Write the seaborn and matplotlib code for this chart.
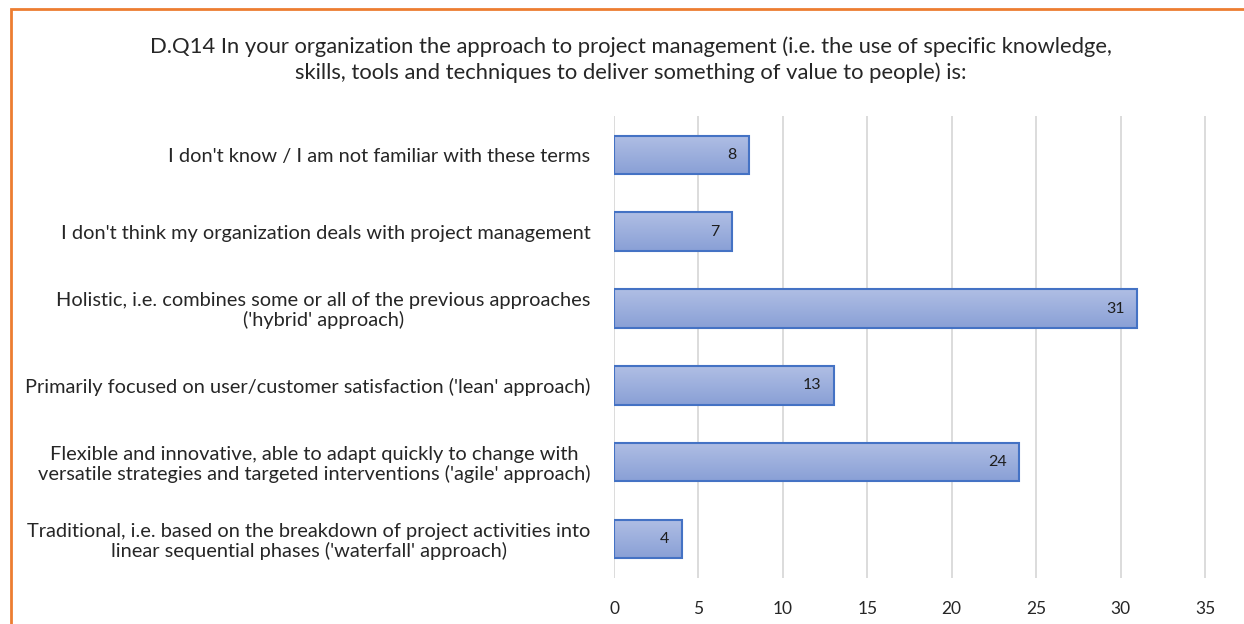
import matplotlib
matplotlib.use("Agg")
import matplotlib.pyplot as plt
import seaborn as sns
import numpy as np
import pandas as pd
from matplotlib.patches import Rectangle
from matplotlib.colors import LinearSegmentedColormap

# answers, top to bottom as in the chart
answers = [
    "I don't know / I am not familiar with these terms",
    "I don't think my organization deals with project management",
    "Holistic, i.e. combines some or all of the previous approaches\n('hybrid' approach)",
    "Primarily focused on user/customer satisfaction ('lean' approach)",
    "Flexible and innovative, able to adapt quickly to change with\nversatile strategies and targeted interventions ('agile' approach)",
    "Traditional, i.e. based on the breakdown of project activities into\nlinear sequential phases ('waterfall' approach)",
]
counts = [8, 7, 31, 13, 24, 4]
x_ticks = [0, 5, 10, 15, 20, 25, 30, 35]

title = ("D.Q14 In your organization the approach to project management (i.e. the use of specific knowledge,\n"
         "skills, tools and techniques to deliver something of value to people) is:")

sns.set_style("white")
plt.rcParams['font.family'] = ['Lato', 'DejaVu Sans']

df = pd.DataFrame({'answer': answers, 'count': counts})

fig = plt.figure(figsize=(12.44, 6.24), dpi=100)
ax = fig.add_axes([0.4936, 0.0745, 0.4791, 0.739])

sns.barplot(data=df, y='answer', x='count', orient='h', order=answers,
            color='#9dafdd', edgecolor='#4472c4', linewidth=1.5, width=0.5,
            saturation=1, ax=ax, zorder=3)

# Excel-like vertical gradient inside each bar
grad = LinearSegmentedColormap.from_list('g', ['#8aa0d6', '#afbee4'])
for p in ax.patches:
    x0, y0, w, h = p.get_x(), p.get_y(), p.get_width(), p.get_height()
    im = ax.imshow(np.linspace(0, 1, 50).reshape(-1, 1), cmap=grad, aspect='auto',
                   extent=(x0, x0 + w, y0 + h, y0), origin='lower', zorder=3.5)
    im.set_clip_path(p)
    p.set_facecolor('none')
    p.set_zorder(3.6)

for p, v in zip(ax.patches, counts):
    ax.text(p.get_width() - 0.75, p.get_y() + p.get_height() / 2, str(v),
            ha='right', va='center', fontsize=11.5, color='#1e1e1e', zorder=4)

ax.set_ylim(len(answers) - 0.5, -0.5)
ax.set_xlim(0, 35.3)
ax.set_xticks(x_ticks)
ax.set_xticklabels([str(t) for t in x_ticks], fontsize=12.5, color='#262626')
ax.grid(axis='x', color='#d9d9d9', linewidth=1.3, zorder=0)
ax.set_axisbelow(True)
ax.set_xlabel('')
ax.set_ylabel('')
ax.tick_params(axis='x', length=0, pad=17)
ax.tick_params(axis='y', length=0, pad=17)
for lbl in ax.get_yticklabels():
    lbl.set_fontsize(14.4)
    lbl.set_color('#262626')
    lbl.set_multialignment('center')
    lbl.set_linespacing(1.12)
for s in ax.spines.values():
    s.set_visible(False)

fig.text(0.507, 0.905, title, ha='center', va='center', fontsize=15.8,
         color='#262626', linespacing=1.33)

# orange chart frame (extends past right/bottom edge)
fig.patches.append(Rectangle((11 / 1244, -0.05), 1.2, 0.05 + 1 - 9 / 624,
                             transform=fig.transFigure, fill=False,
                             edgecolor='#ed7d31', linewidth=2))

fig.savefig('out.png', dpi=100)
